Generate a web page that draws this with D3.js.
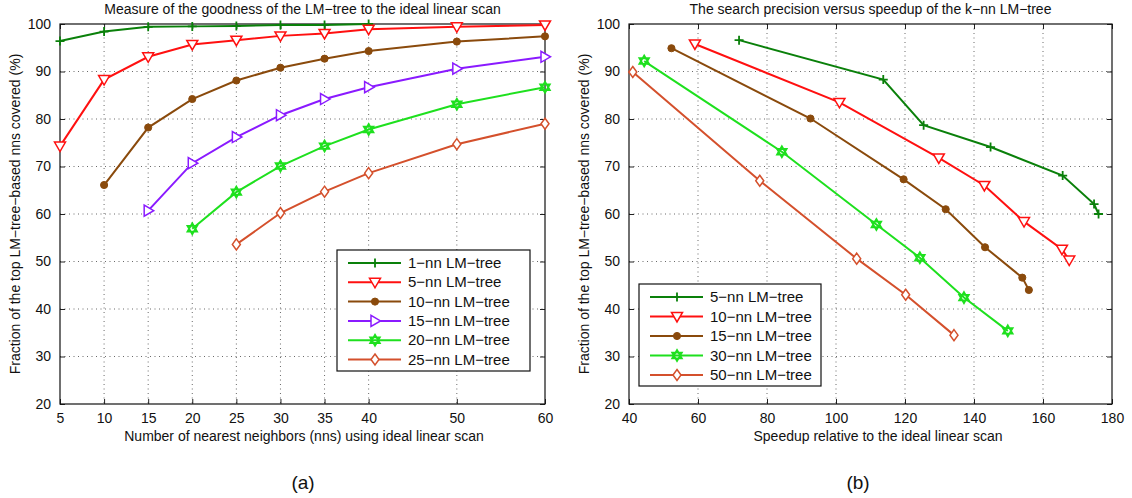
<!DOCTYPE html>
<html><head><meta charset="utf-8">
<script src="https://cdn.jsdelivr.net/npm/d3@7"></script>
<style>
html,body{margin:0;padding:0;background:#fff;}
text{font-family:"Liberation Sans",Arial,sans-serif;}
</style></head>
<body><svg id="c" width="1132" height="498"></svg>
<script>
// ---------- Panel (a) data ----------
const aX = [5,10,15,20,25,30,35,40,50,60];
const aNames = ["1\u2212nn LM\u2212tree","5\u2212nn LM\u2212tree","10\u2212nn LM\u2212tree","15\u2212nn LM\u2212tree","20\u2212nn LM\u2212tree","25\u2212nn LM\u2212tree"];
const a1nn  = [[5,96.4],[10,98.4],[15,99.4],[20,99.5],[25,99.6],[30,99.8],[35,99.8],[40,100]];
const a5nn  = [[5,74.3],[10,88.3],[15,93.1],[20,95.7],[25,96.6],[30,97.5],[35,98.0],[40,98.9],[50,99.4],[60,99.8]];
const a10nn = [[10,66.1],[15,78.2],[20,84.2],[25,88.1],[30,90.8],[35,92.7],[40,94.3],[50,96.3],[60,97.4]];
const a15nn = [[15,60.7],[20,70.7],[25,76.2],[30,80.8],[35,84.2],[40,86.7],[50,90.6],[60,93.1]];
const a20nn = [[20,56.9],[25,64.6],[30,70.1],[35,74.3],[40,77.8],[50,83.1],[60,86.7]];
const a25nn = [[25,53.6],[30,60.2],[35,64.7],[40,68.6],[50,74.7],[60,79.0]];
const aYTicks = [20,30,40,50,60,70,80,90,100];

// ---------- Panel (b) data ----------
const bXTicks = [40,60,80,100,120,140,160,180];
const bYTicks = [20,30,40,50,60,70,80,90,100];
const bNames = ["5\u2212nn LM\u2212tree","10\u2212nn LM\u2212tree","15\u2212nn LM\u2212tree","30\u2212nn LM\u2212tree","50\u2212nn LM\u2212tree"];
const b5nn  = [[71.9,96.6],[113.7,88.3],[125.4,78.7],[144.8,74.1],[165.7,68.1],[174.8,62.1],[176.1,60.0]];
const b10nn = [[59.1,95.8],[101.0,83.5],[129.8,71.8],[143.0,66.0],[154.5,58.4],[165.5,52.6],[167.6,50.3]];
const b15nn = [[52.3,94.9],[92.6,80.1],[119.6,67.3],[131.8,61.0],[143.2,53.0],[154.0,46.6],[155.9,44.0]];
const b30nn = [[44.4,92.2],[84.3,73.1],[111.7,57.8],[124.3,50.8],[137.1,42.4],[149.8,35.4]];
const b50nn = [[41.1,89.9],[77.9,67.0],[106.0,50.6],[120.2,43.0],[134.2,34.5]];

const C = {dg:"#0a800a", red:"#ff1010", brown:"#8a4a0c", purple:"#8a1aff", green:"#1ee01e", orange:"#d4502c"};
const FS = 14;

const svg = d3.select("#c");

function marker(g, type, color){
  const s = g.append("path").attr("fill","none").attr("stroke",color).attr("stroke-width",1.5);
  if(type==="plus"){ s.attr("d","M-4.5,0H4.5M0,-4.5V4.5").attr("stroke-width",1.8); }
  else if(type==="tdown"){ s.attr("d","M-5.5,-4L5.5,-4L0,5.5Z").attr("fill","#fff"); }
  else if(type==="tright"){ s.attr("d","M-4,-5.5L-4,5.5L5.5,0Z").attr("fill","#fff"); }
  else if(type==="circle"){ s.attr("d",d3.symbol(d3.symbolCircle,40)()).attr("fill",color).attr("stroke-width",1); }
  else if(type==="hex"){ s.attr("d","M0,-5.5L4.8,2.8L-4.8,2.8ZM0,5.5L4.8,-2.8L-4.8,-2.8Z").attr("fill","#9f9").attr("stroke-width",1.8); }
  else if(type==="diamond"){ s.attr("d","M0,-5.5L4,0L0,5.5L-4,0Z").attr("fill","#fff"); }
}

function panel(cfg){
  const x = d3.scaleLinear().domain(cfg.xdom).range([cfg.x0,cfg.x1]);
  const y = d3.scaleLinear().domain([20,100]).range([cfg.y1,cfg.y0]);
  const g = svg.append("g");
  const grid = g.append("g").attr("stroke","#444").attr("stroke-width",0.8).attr("stroke-dasharray","1,3.5");
  cfg.xticks.slice(1,-1).forEach(t=>grid.append("line").attr("x1",x(t)).attr("x2",x(t)).attr("y1",cfg.y0).attr("y2",cfg.y1));
  cfg.yticks.slice(1,-1).forEach(t=>grid.append("line").attr("x1",cfg.x0).attr("x2",cfg.x1).attr("y1",y(t)).attr("y2",y(t)));
  const axB = d3.axisBottom(x).tickValues(cfg.xticks).tickSize(-5).tickPadding(9).tickSizeOuter(0);
  const axT = d3.axisTop(x).tickValues(cfg.xticks).tickSize(-5).tickFormat("").tickSizeOuter(0);
  const axL = d3.axisLeft(y).tickValues(cfg.yticks).tickSize(-5).tickPadding(9).tickSizeOuter(0);
  const axR = d3.axisRight(y).tickValues(cfg.yticks).tickSize(-5).tickFormat("").tickSizeOuter(0);
  [[axB,`translate(0,${cfg.y1})`],[axT,`translate(0,${cfg.y0})`],[axL,`translate(${cfg.x0},0)`],[axR,`translate(${cfg.x1},0)`]].forEach(([a,t])=>{
    const ag = g.append("g").attr("transform",t).call(a);
    ag.selectAll("text").attr("font-size",FS).attr("fill","#111").attr("font-family","Liberation Sans, Arial, sans-serif");
    ag.select(".domain").remove();
    ag.selectAll(".tick line").attr("stroke","#222");
  });
  g.append("rect").attr("x",cfg.x0).attr("y",cfg.y0).attr("width",cfg.x1-cfg.x0).attr("height",cfg.y1-cfg.y0)
    .attr("fill","none").attr("stroke","#111").attr("stroke-width",1.2);
  const line = d3.line().x(d=>x(d[0])).y(d=>y(d[1]));
  cfg.series.forEach(s=>{
    g.append("path").datum(s.data).attr("d",line).attr("fill","none").attr("stroke",s.color).attr("stroke-width",2);
    s.data.forEach(d=>{ const m=g.append("g").attr("transform",`translate(${x(d[0])},${y(d[1])})`); marker(m,s.m,s.color); });
  });
  g.append("text").attr("x",(cfg.x0+cfg.x1)/2).attr("y",14).attr("text-anchor","middle").attr("font-size",FS).attr("fill","#111").text(cfg.title);
  g.append("text").attr("x",cfg.xlx).attr("y",441).attr("text-anchor","middle").attr("font-size",FS).attr("fill","#111").text(cfg.xlabel);
  g.append("text").attr("transform",`translate(${cfg.x0-40},${(cfg.y0+cfg.y1)/2}) rotate(-90)`).attr("text-anchor","middle").attr("font-size",FS).attr("fill","#111").text("Fraction of the top LM\u2212tree\u2212based nns covered (%)");
  g.append("text").attr("x",cfg.capx).attr("y",489).attr("text-anchor","middle").attr("font-size",19).attr("font-family","Liberation Serif, serif").attr("fill","#111").text(cfg.cap);
  const L = cfg.legend;
  g.append("rect").attr("x",L.x).attr("y",L.y).attr("width",L.w).attr("height",L.h).attr("fill","#fff").attr("stroke","#111").attr("stroke-width",1.2);
  cfg.series.forEach((s,i)=>{
    const yy = L.y + 13 + i*L.dy;
    g.append("line").attr("x1",L.x+11).attr("x2",L.x+64).attr("y1",yy).attr("y2",yy).attr("stroke",s.color).attr("stroke-width",2);
    const m=g.append("g").attr("transform",`translate(${L.x+38},${yy})`); marker(m,s.m,s.color);
    g.append("text").attr("x",L.x+71).attr("y",yy+5).attr("font-size",15).attr("fill","#111").text(s.name);
  });
}

panel({
  xdom:[5,60], x0:60, x1:545, y0:24, y1:404, xticks:aX, yticks:aYTicks,
  title:"Measure of the goodness of the LM\u2212tree to the ideal linear scan",
  xlabel:"Number of nearest neighbors (nns) using ideal linear scan", xlx:304,
  cap:"(a)", capx:303,
  legend:{x:337, y:250, w:193, h:121, dy:19.3},
  series:[
    {name:aNames[0], data:a1nn, color:C.dg, m:"plus"},
    {name:aNames[1], data:a5nn, color:C.red, m:"tdown"},
    {name:aNames[2], data:a10nn, color:C.brown, m:"circle"},
    {name:aNames[3], data:a15nn, color:C.purple, m:"tright"},
    {name:aNames[4], data:a20nn, color:C.green, m:"hex"},
    {name:aNames[5], data:a25nn, color:C.orange, m:"diamond"}
  ]
});
panel({
  xdom:[40,180], x0:629, x1:1112, y0:24, y1:404, xticks:bXTicks, yticks:bYTicks,
  title:"The search precision versus speedup of the k\u2212nn LM\u2212tree",
  xlabel:"Speedup relative to the ideal linear scan", xlx:878,
  cap:"(b)", capx:858,
  legend:{x:639, y:284, w:182, h:102, dy:19.5},
  series:[
    {name:bNames[0], data:b5nn, color:C.dg, m:"plus"},
    {name:bNames[1], data:b10nn, color:C.red, m:"tdown"},
    {name:bNames[2], data:b15nn, color:C.brown, m:"circle"},
    {name:bNames[3], data:b30nn, color:C.green, m:"hex"},
    {name:bNames[4], data:b50nn, color:C.orange, m:"diamond"}
  ]
});
</script></body></html>
